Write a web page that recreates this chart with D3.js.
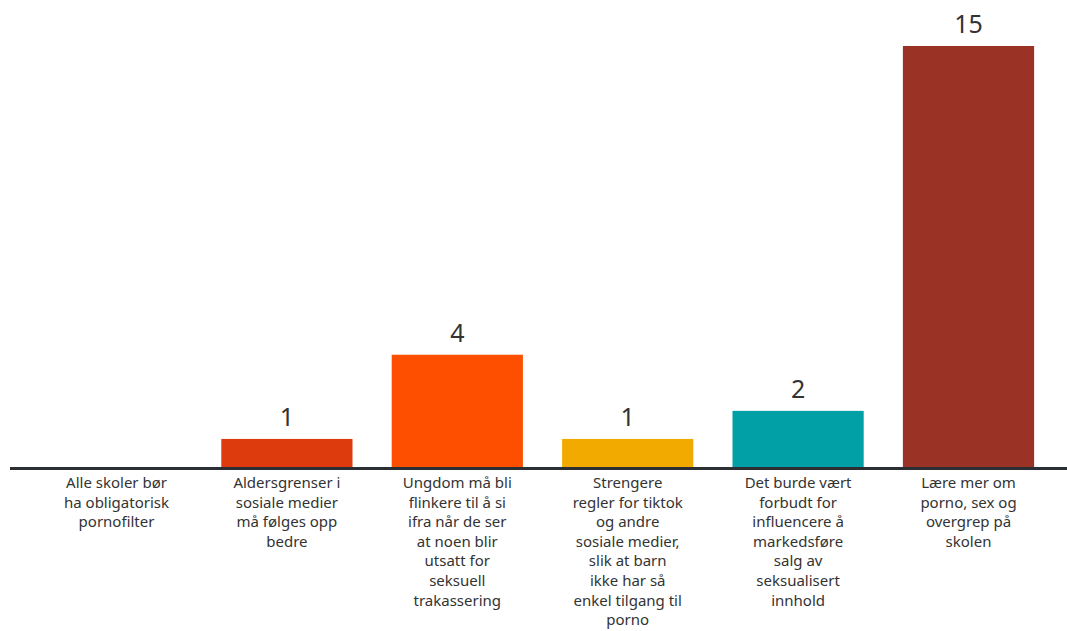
<!DOCTYPE html>
<html>
<head>
<meta charset="utf-8">
<script src="https://cdn.jsdelivr.net/npm/d3@7"></script>
<style>
    body { margin: 0; background: #fff; }
    .cat-label { font-family: "Noto Sans", sans-serif; font-size: 15px; fill: #333; }
    .value-label { font-family: "Noto Sans", sans-serif; font-size: 25px; fill: #333; }
</style>
</head>
<body>
<div id="chart"></div>
<script>
    // categories, already split into the lines used in the picture
    var categories = [
        ["Alle skoler bør", "ha obligatorisk", "pornofilter"],
        ["Aldersgrenser i", "sosiale medier", "må følges opp", "bedre"],
        ["Ungdom må bli", "flinkere til å si", "ifra når de ser", "at noen blir", "utsatt for", "seksuell", "trakassering"],
        ["Strengere", "regler for tiktok", "og andre", "sosiale medier,", "slik at barn", "ikke har så", "enkel tilgang til", "porno"],
        ["Det burde vært", "forbudt for", "influencere å", "markedsføre", "salg av", "seksualisert", "innhold"],
        ["Lære mer om", "porno, sex og", "overgrep på", "skolen"]
    ];
    var values = [0, 1, 4, 1, 2, 15];
    var colors = ["#d83a10", "#dd3a0e", "#fe4f00", "#f2a900", "#00a0a6", "#9a3325"];

    var width = 1067;
    var height = 631;
    var baseline = 467;
    var lineHeight = 19.6;

    var svg = d3.select("#chart").append("svg")
        .attr("width", width)
        .attr("height", height);

    var x = d3.scaleBand()
        .domain(d3.range(categories.length))
        .range([31.3, 1053.7])
        .paddingInner(0.23)
        .paddingOuter(0.115);

    var y = d3.scaleLinear()
        .domain([0, 15])
        .range([baseline, 46]);

    svg.selectAll(".bar")
        .data(values)
        .enter()
        .append("rect")
        .attr("class", "bar")
        .attr("x", function(d, i) { return x(i); })
        .attr("y", function(d) { return y(d); })
        .attr("width", x.bandwidth())
        .attr("height", function(d) { return baseline - y(d); })
        .attr("fill", function(d, i) { return colors[i]; });

    // numbers above bars, none for the empty one
    values.forEach(function(d, i) {
        if (!d) return;
        svg.append("text")
            .attr("class", "value-label")
            .attr("text-anchor", "middle")
            .attr("x", x(i) + x.bandwidth() / 2)
            .attr("y", y(d) - 13)
            .text(d);
    });

    // axis line
    svg.append("line")
        .attr("x1", 10)
        .attr("x2", width)
        .attr("y1", baseline + 1.5)
        .attr("y2", baseline + 1.5)
        .attr("stroke", "#2b2e33")
        .attr("stroke-width", 3);

    var labels = svg.selectAll(".cat-label")
        .data(categories)
        .enter()
        .append("text")
        .attr("class", "cat-label")
        .attr("text-anchor", "middle")
        .attr("transform", function(d, i) {
            return "translate(" + (x(i) + x.bandwidth() / 2) + "," + (baseline + 21) + ")";
        });

    labels.selectAll("tspan")
        .data(function(d) { return d; })
        .enter()
        .append("tspan")
        .attr("x", 0)
        .attr("y", function(d, i) { return i * lineHeight; })
        .text(function(d) { return d; });
</script>
</body>
</html>
